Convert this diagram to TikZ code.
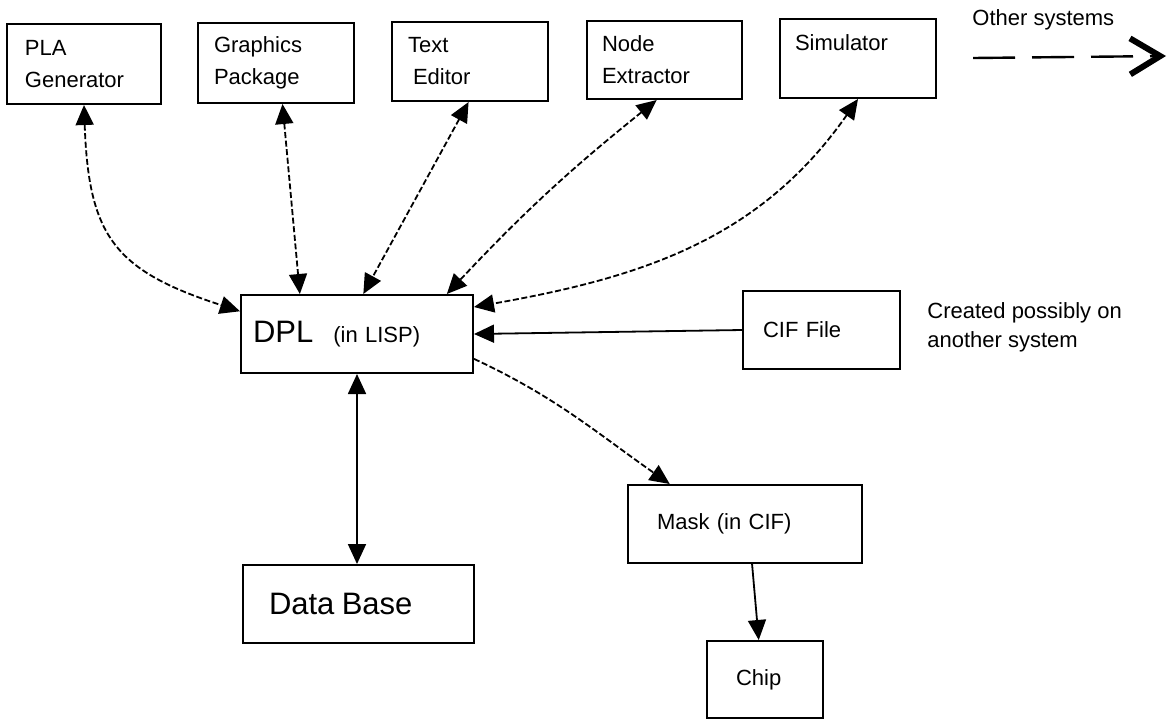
\documentclass[tikz,border=0pt]{standalone}
\usepackage{fontspec}
\setmainfont{Liberation Sans}
\usetikzlibrary{arrows.meta}
\tikzset{
  box/.style={draw, line width=1pt, rectangle, align=left, inner ysep=0pt,
    minimum height=39pt, font=\fontsize{11}{16}\selectfont},
  hd/.tip={Triangle[length=10pt, width=9pt]},
  link/.style={line width=0.9pt, dash pattern=on 3pt off 1.3pt, hd-hd},
  feed/.style={line width=0.9pt, dash pattern=on 3pt off 1.3pt, -hd},
  wire/.style={line width=0.9pt, -hd},
  note/.style={align=left, inner sep=0pt, font=\fontsize{11}{14.5}\selectfont}
}
\begin{document}
\begin{tikzpicture}[x=0.5pt, y=-0.5pt]
      \def\bigfont{\fontsize{15.5}{18}\selectfont}
      \useasboundingbox (0,0) rectangle (1167,719);
      \node[box, text width=59pt, inner xsep=9pt, minimum height=40pt] (pla) at (84,64) {PLA\\Generator};
      \node[box, text width=62pt, inner xsep=8pt, minimum height=40pt] (gra) at (276,63) {Graphics\\Package};
      \node[box, text width=62pt, inner xsep=8pt, minimum height=39.5pt] (txt) at (470,61.5) {Text\\\hspace*{2.5pt}Editor};
      \node[box, text width=62.5pt, inner xsep=7.5pt] (nod) at (664.5,60) {Node\\Extractor};
      \node[box, text width=63pt, inner xsep=7.5pt, minimum height=39.5pt] (sim) at (858,58.5) {Simulator\\\mbox{}};
      \node[box, text width=104pt, inner xsep=6pt] (dpl) at (357,334) {{\bigfont DPL}\hspace{10pt}(in LISP)};
      \node[box, text width=58.5pt, inner xsep=10pt] (cif) at (821.5,330) {CIF File};
      \node[box, text width=88pt, inner xsep=14.5pt] (msk) at (745,524) {Mask (in CIF)};
      \node[box, text width=29pt, inner xsep=14.5pt, minimum height=38.5pt] (chp) at (765,679.5) {Chip};
      \node[box, text width=89.5pt, inner xsep=13pt] (db) at (358.5,604) {\bigfont Data Base};
      \node[note, anchor=west] (other) at (972,20) {Other systems};
      \node[note, anchor=west] (made) at (927,327) {Created possibly on\\another system};
      \coordinate (oth-a) at (973,58);
      \coordinate (oth-b) at (1166,56);
      \draw[link] (pla.south) to[out=-88, in=162, looseness=1.3] (dpl.169);
      \draw[link] (gra.-81) -- (dpl.145);
      \draw[link] (txt.-92) -- (dpl.81);
      \draw[link] (nod.-101) to[bend right=4] (dpl.24);
      \draw[link] (sim.south) to[out=-125, in=10] (dpl.13);
      \draw[wire] (cif.west) -- (dpl.east);
      \draw[feed] (dpl.-12) to[out=-25, in=145] (msk.152);
      \draw[wire, hd-hd] (dpl.south) -- (dpl.south |- db.north);
      \draw[wire] (msk.-80) -- (chp.99);
      \draw[line width=1.2pt, dash pattern=on 21pt off 8.5pt,
        -{Straight Barb[length=15pt, width=18pt, line width=3pt]}] (oth-a) -- (oth-b);
\end{tikzpicture}
\end{document}
